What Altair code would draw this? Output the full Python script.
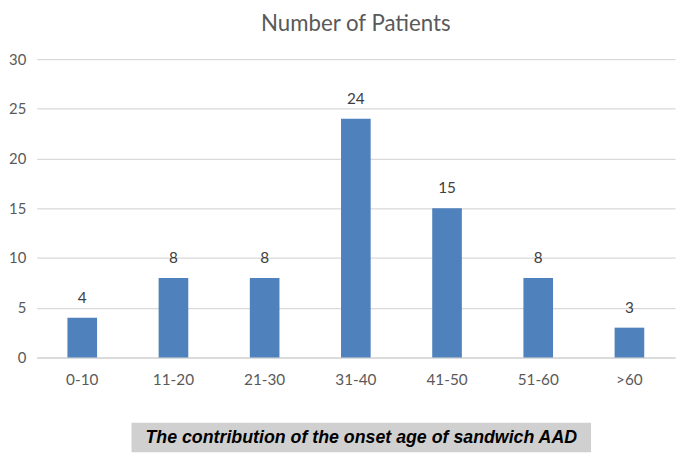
import altair as alt
import pandas as pd

categories = ["0-10", "11-20", "21-30", "31-40", "41-50", "51-60", ">60"]
patients = [4, 8, 8, 24, 15, 8, 3]
caption = "The contribution of the onset age of sandwich AAD"

df = pd.DataFrame({"age": categories, "n": patients})

FONT = "Lato"
GRAY = "#595959"

base = alt.Chart(df).encode(
    x=alt.X("age:N", sort=categories, title=None,
            scale=alt.Scale(paddingInner=0.675, paddingOuter=0.3375),
            axis=alt.Axis(labelAngle=0, labelFontSize=15.5, labelColor=GRAY, labelFont=FONT,
                          labelPadding=15, ticks=False, domainColor="#d9d9d9", domainWidth=1.3,
                          grid=False)),
    y=alt.Y("n:Q", title=None,
            scale=alt.Scale(domain=[0, 30]),
            axis=alt.Axis(values=[0, 5, 10, 15, 20, 25, 30], labelFontSize=15, labelColor=GRAY,
                          labelFont=FONT, labelPadding=11, ticks=False, domain=False,
                          gridColor="#d9d9d9", gridWidth=1.3)),
)

bars = base.mark_bar(color="#4F81BD")
labels = base.mark_text(baseline="alphabetic", dy=-15, fontSize=15.5, color="#404040", font=FONT).encode(
    text="n:Q")

box = alt.Chart(pd.DataFrame({"c": [caption]})).mark_rect(
    color="#d0d0d0", clip=False).encode(
    x=alt.value(96), x2=alt.value(561), y=alt.value(368), y2=alt.value(398))
cap = alt.Chart(pd.DataFrame({"c": [caption]})).mark_text(
    font="Liberation Sans", fontSize=18, fontWeight="bold", fontStyle="italic",
    color="#000000", align="center", baseline="middle").encode(
    x=alt.value(328.5), y=alt.value(384), text="c:N")

chart = alt.layer(bars, labels, box, cap).properties(
    width=646, height=302,
    autosize=alt.AutoSizeParams(type="none"),
    padding={"left": 29, "top": 49, "right": 2, "bottom": 97},
    title=alt.TitleParams("Number of Patients", fontSize=22.5, color=GRAY, font=FONT,
                          fontWeight="normal", anchor="middle", offset=17),
).configure_view(stroke=None)

chart.save("out.html", embed_options={"renderer": "svg", "actions": False})
